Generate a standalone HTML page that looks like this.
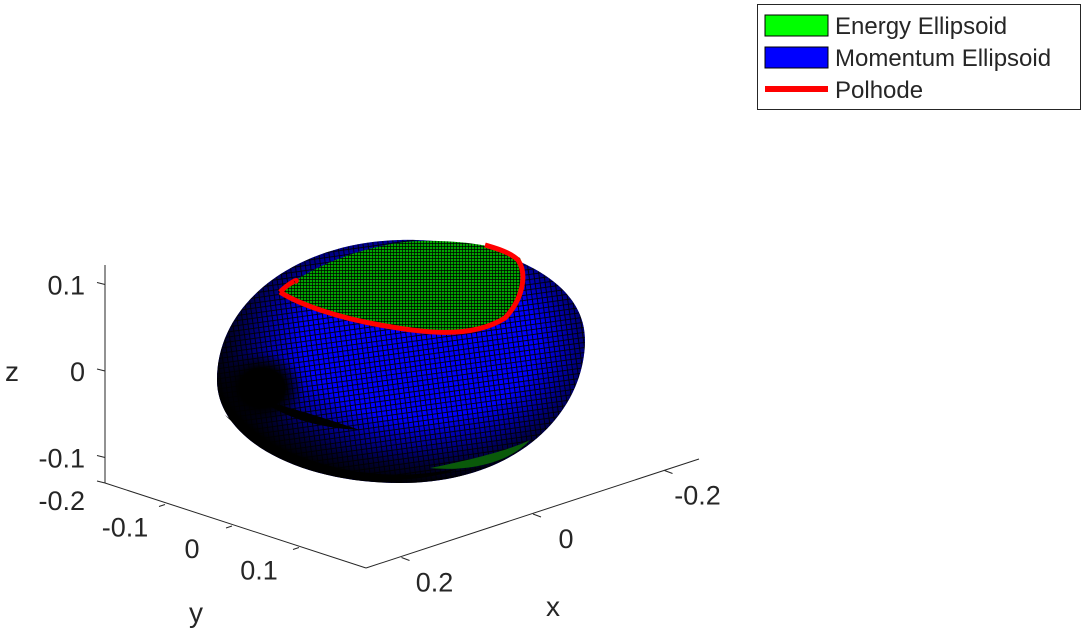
<!DOCTYPE html>
<html><head><meta charset="utf-8"><style>
body{margin:0;background:#fff;width:1088px;height:633px;overflow:hidden;font-family:"Liberation Sans",sans-serif}
svg text{font-family:"Liberation Sans",sans-serif;fill:#262626}
</style></head><body>
<svg width="1088" height="633" viewBox="0 0 1088 633">
<defs>
<pattern id="bluemesh" width="5" height="5" patternUnits="userSpaceOnUse" patternTransform="rotate(-8)">
<rect width="5" height="5" fill="#0000ff"/><path d="M0 0H5M0 0V5" stroke="#000" stroke-width="1.8"/></pattern>
<pattern id="greenmesh" width="3" height="3" patternUnits="userSpaceOnUse">
<rect width="3" height="3" fill="#00d000"/><path d="M0 0H3M0 0V3" stroke="#000" stroke-width="1.4"/></pattern>
<radialGradient id="shade" cx="0.55" cy="0.42" r="0.58">
<stop offset="0.55" stop-color="#000" stop-opacity="0"/><stop offset="0.88" stop-color="#000" stop-opacity="0.8"/><stop offset="1" stop-color="#000" stop-opacity="1"/></radialGradient>
<radialGradient id="hole" cx="0.5" cy="0.5" r="0.5"><stop offset="0.55" stop-color="#000"/><stop offset="1" stop-color="#000" stop-opacity="0"/></radialGradient>
</defs>
<g id="axes"></g>
<g>
<path d="M400 240 C480 238 585 270 585 340 C585 410 520 483 400 483 C300 483 217 440 217 380 C217 300 300 242 400 240Z" fill="url(#bluemesh)"/>
<path d="M400 240 C480 238 585 270 585 340 C585 410 520 483 400 483 C300 483 217 440 217 380 C217 300 300 242 400 240Z" fill="url(#shade)"/>
<ellipse cx="262" cy="388" rx="42" ry="36" fill="url(#hole)"/>
<path d="M225 415 C300 470 380 485 460 468 C400 492 290 482 225 415Z" fill="#000"/>
<path d="M260 400 C300 410 330 420 360 430 C320 428 290 420 260 400Z" fill="#000"/>
</g>
<g>
<path d="M282 290 C320 260 380 242 420 241 C470 240 505 248 520 258 C528 275 522 300 505 318 C480 335 440 335 380 325 C330 315 300 305 282 290Z" fill="url(#greenmesh)"/>
<path d="M282 290 C320 260 380 242 420 241 C470 240 505 248 520 258 C528 275 522 300 505 318 C480 335 440 335 380 325 C330 315 300 305 282 290Z" fill="#000" opacity="0.2"/>
<path d="M430 468 C470 460 510 450 530 440 C510 462 470 472 430 468Z" fill="#0a5a0a"/>
</g>
<path d="M280 292 C290 282 300 278 295 282 M280 292 C300 305 340 318 380 325 C420 332 470 340 505 318 C522 300 528 275 518 260 C510 252 495 248 485 245" fill="none" stroke="#ff0000" stroke-width="5"/>
<g>
<rect x="757.5" y="4.5" width="323" height="105" fill="#fff" stroke="#262626" stroke-width="1"/>
<rect x="765" y="15" width="63" height="21" fill="#00ff00" stroke="#000"/>
<text x="835" y="34" font-size="24" fill="#000">Energy Ellipsoid</text>
<rect x="765" y="47" width="63" height="21" fill="#0000ff" stroke="#000"/>
<text x="835" y="66" font-size="24" fill="#000">Momentum Ellipsoid</text>
<line x1="765" y1="89" x2="828" y2="89" stroke="#ff0000" stroke-width="6"/>
<text x="835" y="98" font-size="24" fill="#000">Polhode</text>
</g>
<text x="12" y="381" font-size="28" text-anchor="middle">z</text>
<text x="196" y="622" font-size="28" text-anchor="middle">y</text>
<text x="553" y="616" font-size="28" text-anchor="middle">x</text>
</svg>
<script>
const zTicks=[0.1,0,-0.1,-0.2];
const zTickLabels=["0.1","0","-0.1","-0.2"];
const yTicks=[-0.1,0,0.1];
const yTickLabels=["-0.1","0","0.1"];
const xTicks=[0.2,0,-0.2];
const xTickLabels=["0.2","0","-0.2"];
const NS="http://www.w3.org/2000/svg";
const g=document.getElementById('axes');
function zY(v){return 371-v*865;}
function yP(v){return [232+v*670,526+v*215];}
function xP(v){return [533-v*657.5,514+v*217.5];}
function mk(tag,attrs){const e=document.createElementNS(NS,tag);for(const k in attrs)e.setAttribute(k,attrs[k]);g.appendChild(e);return e;}
let l=mk('line',{x1:105,y1:265,x2:105,y2:483,stroke:'#262626','stroke-width':1});


l=mk('line',{x1:105,y1:483,x2:366,y2:568,stroke:'#262626','stroke-width':1});


l=mk('line',{x1:366,y1:568,x2:699,y2:459,stroke:'#262626','stroke-width':1});


zTicks.forEach((v,i)=>{const y=v===-0.2?483:zY(v);
 const t=mk('line',{x1:97,y1:y-2,x2:105,y2:y,stroke:'#262626'});
 
 
 const tx=mk('text',{x:85,y:(v===-0.2?510:y+10),'font-size':27,'text-anchor':'end'});tx.textContent=zTickLabels[i];
 
 });
yTicks.forEach((v,i)=>{const [x,y]=yP(v);
 const t=mk('line',{x1:x,y1:y,x2:x-6,y2:y+2,stroke:'#262626'});
 
 
 const tx=mk('text',{x:x-40,y:y+32,'font-size':27,'text-anchor':'middle'});tx.textContent=yTickLabels[i];
 
 });
xTicks.forEach((v,i)=>{const [x,y]=xP(v);
 const t=mk('line',{x1:x,y1:y,x2:x+8,y2:y+3,stroke:'#262626'});
 
 
 const tx=mk('text',{x:x+33,y:y+34,'font-size':27,'text-anchor':'middle'});tx.textContent=xTickLabels[i];
 
 });
</script>
</body></html>
